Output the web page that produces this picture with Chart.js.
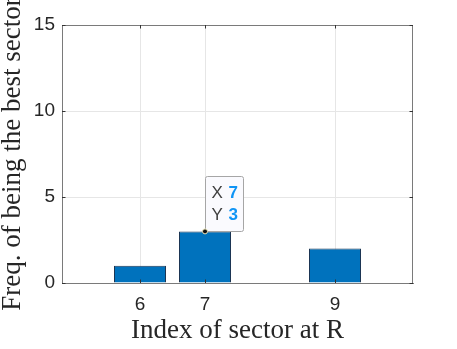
<!DOCTYPE html>
<html><head><meta charset="utf-8">
<script src="https://cdn.jsdelivr.net/npm/chart.js@4/dist/chart.umd.min.js"></script>
<style>html,body{margin:0;padding:0;background:#fff}#wrap{width:457px;height:349px}</style>
</head><body><div id="wrap"><canvas id="c" width="457" height="349"></canvas></div>
<script>
// ---- data ----
const sectorIndex = [6, 7, 9];
const frequency = [1, 3, 2];
const xTicks = [6, 7, 9];
const yTicks = [0, 5, 10, 15];
const xLimits = [4.8, 10.2];
const yLimits = [0, 15];
const datatipX = 7;
const datatipY = 3;
const xTitle = 'Index of sector at R';
const yTitle = 'Freq. of being the best sector';

const tickFont = {family: '"Liberation Sans", Arial, Helvetica, sans-serif', size: 19};
const titleFont = {family: '"Liberation Serif", "Times New Roman", serif', size: 27};
const axisColor = '#7a7a7a';
const textColor = '#262626';

const framePlugin = {
  id: 'frame',
  afterDatasetsDraw(chart) {
    const {ctx, chartArea: a, scales} = chart;
    ctx.save();
    ctx.strokeStyle = axisColor;
    ctx.lineWidth = 1;
    ctx.strokeRect(Math.round(a.left) + 0.5, Math.round(a.top) + 0.5,
                   Math.round(a.right - a.left) - 1, Math.round(a.bottom - a.top));
    ctx.strokeStyle = '#333';
    const tl = 3.5;
    ctx.beginPath();
    xTicks.forEach(v => {
      const x = Math.round(scales.x.getPixelForValue(v)) + 0.5;
      ctx.moveTo(x, a.bottom); ctx.lineTo(x, a.bottom - tl);
      ctx.moveTo(x, a.top); ctx.lineTo(x, a.top + tl);
    });
    yTicks.forEach(v => {
      const y = Math.round(scales.y.getPixelForValue(v)) + 0.5;
      ctx.moveTo(a.left, y); ctx.lineTo(a.left + tl, y);
      ctx.moveTo(a.right, y); ctx.lineTo(a.right - tl, y);
    });
    ctx.stroke();
    ctx.restore();
  },
  afterDraw(chart) {
    const {ctx, scales} = chart;
    const px = scales.x.getPixelForValue(datatipX);
    const py = scales.y.getPixelForValue(datatipY);
    ctx.save();
    const w = 38, h = 55;
    const bx = Math.round(px) + 0.5, by = Math.round(py - h) + 0.5;
    ctx.beginPath();
    ctx.roundRect(bx, by, w, h, 2);
    ctx.fillStyle = 'rgba(250,250,254,0.97)';
    ctx.fill();
    ctx.strokeStyle = '#a6a6a6';
    ctx.lineWidth = 1;
    ctx.stroke();
    ctx.textBaseline = 'middle';
    ctx.textAlign = 'left';
    ctx.font = '17px "Liberation Sans", Arial, sans-serif';
    ctx.fillStyle = '#404040';
    ctx.fillText('X', bx + 6, by + 17);
    ctx.fillText('Y', bx + 6, by + 39);
    ctx.font = 'bold 17px "Liberation Sans", Arial, sans-serif';
    ctx.fillStyle = '#0f94f5';
    ctx.fillText(String(datatipX), bx + 23, by + 17);
    ctx.fillText(String(datatipY), bx + 23, by + 39);
    ctx.beginPath();
    ctx.arc(px, py, 2.5, 0, Math.PI * 2);
    ctx.fillStyle = '#111';
    ctx.fill();
    ctx.strokeStyle = '#e9e3b8';
    ctx.lineWidth = 1;
    ctx.stroke();
    ctx.restore();
  }
};

new Chart(document.getElementById('c'), {
  type: 'bar',
  data: {
    datasets: [{
      data: sectorIndex.map((x, i) => ({x: x, y: frequency[i]})),
      backgroundColor: '#0072BD',
      borderColor: '#1b3553',
      borderWidth: 1,
      barPercentage: 0.8,
      categoryPercentage: 1
    }]
  },
  options: {
    responsive: false,
    animation: false,
    devicePixelRatio: 1,
    layout: {padding: {left: 0, right: 44, top: 25, bottom: 0}},
    plugins: {legend: {display: false}, tooltip: {enabled: false}},
    scales: {
      x: {
        type: 'linear',
        min: xLimits[0], max: xLimits[1],
        offset: false,
        afterBuildTicks: s => { s.ticks = xTicks.map(v => ({value: v})); },
        afterFit: s => { s.height = 66; },
        grid: {color: '#e6e6e6', drawTicks: false, offset: false},
        border: {color: axisColor},
        ticks: {font: tickFont, color: textColor, padding: 10, maxRotation: 0, autoSkip: false},
        title: {display: true, text: xTitle, font: titleFont, color: textColor, padding: {top: 0, bottom: 2}}
      },
      y: {
        min: yLimits[0], max: yLimits[1],
        afterBuildTicks: s => { s.ticks = yTicks.map(v => ({value: v})); },
        afterFit: s => { s.width = 62; },
        grid: {color: '#e6e6e6', drawTicks: false},
        border: {color: axisColor},
        ticks: {font: tickFont, color: textColor, padding: 7},
        title: {display: true, text: yTitle, font: titleFont, color: textColor, padding: {top: -3, bottom: 0}}
      }
    }
  },
  plugins: [framePlugin]
});
</script>
</body></html>
